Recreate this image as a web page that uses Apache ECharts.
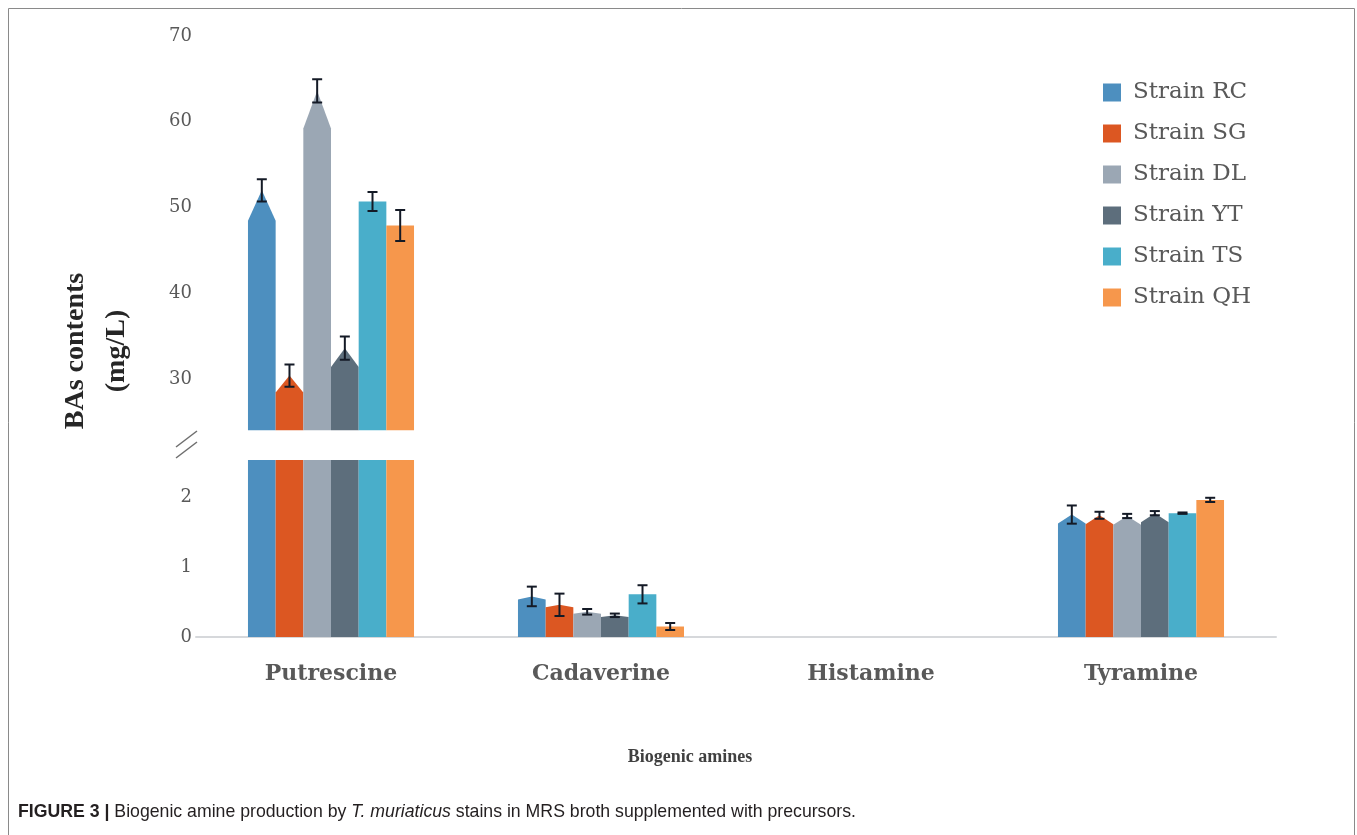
<!DOCTYPE html>
<html>
<head>
<meta charset="utf-8">
<title>Biogenic amine production</title>
<script src="https://cdn.jsdelivr.net/npm/echarts@6/dist/echarts.min.js"></script>
<style>
  html, body { margin: 0; padding: 0; background: #ffffff; }
  #chart { width: 1357px; height: 835px; }
</style>
</head>
<body>
<div id="chart"></div>
<script>
// ---- data ----
const categories = ['Putrescine', 'Cadaverine', 'Histamine', 'Tyramine'];
const strains = ['Strain RC', 'Strain SG', 'Strain DL', 'Strain YT', 'Strain TS', 'Strain QH'];

// mean BA content (mg/L), one value per amine
const strainRC = [52.0, 0.58, 0, 1.75];
const strainSG = [30.4, 0.46, 0, 1.74];
const strainDL = [63.6, 0.36, 0, 1.73];
const strainYT = [33.6, 0.31, 0, 1.77];
const strainTS = [50.7, 0.61, 0, 1.77];
const strainQH = [47.9, 0.15, 0, 1.96];

// standard deviation of each mean
const errRC = [1.3, 0.14, 0, 0.13];
const errSG = [1.3, 0.16, 0, 0.05];
const errDL = [1.35, 0.04, 0, 0.03];
const errYT = [1.35, 0.025, 0, 0.03];
const errTS = [1.1, 0.13, 0, 0.01];
const errQH = [1.8, 0.05, 0, 0.03];

// broken value axis: upper and lower segments
const upperTicks = [30, 40, 50, 60, 70];
const lowerTicks = [0, 1, 2];
const upperRange = [24, 70];
const lowerRange = [0, 2.53];

// ---- styling / layout ----
const means = [strainRC, strainSG, strainDL, strainYT, strainTS, strainQH];
const errs = [errRC, errSG, errDL, errYT, errTS, errQH];
const colors = ['#4d8fbf', '#dc5722', '#9ba7b4', '#5d6e7c', '#49aeca', '#f6974c'];
const pointedTop = [true, true, true, true, false, false];
const TIP_FRAC = 0.073;     // height of the pointed cap relative to the bar's drawn height
const BAR_FRAC = 0.1025;    // bar width relative to the category band
const ERR_COLOR = '#141a26';
const CAP_W = 10;

const GRID_LEFT = 196, GRID_W = 1080;
const UP_TOP = 36, UP_H = 394.5;
const LO_TOP = 460, LO_H = 177;

const SERIF = '"DejaVu Serif", "Liberation Serif", serif';
const SANS = '"Liberation Sans", Arial, sans-serif';
const GRAY = '#595959';

function makeRenderer(k, isUpper) {
  return function (params, api) {
    const cat = api.value(0);
    const v = api.value(1);
    const e = api.value(2);
    if (!(v > 0)) return null;
    if (isUpper && v <= upperRange[0]) return null;
    const cs = params.coordSys;
    const bottom = cs.y + cs.height;
    const p = api.coord([cat, v]);
    const band = api.size([1, 0])[0];
    const bw = band * BAR_FRAC;
    const x0 = p[0] + (k - strains.length / 2) * bw;
    const yTop = p[1];
    let total = bottom - yTop;
    if (isUpper) total += LO_H;
    const tip = pointedTop[k] ? total * TIP_FRAC : 0;
    const children = [{
      type: 'polygon',
      shape: {
        points: [[x0, bottom], [x0, yTop + tip], [x0 + bw / 2, yTop],
                 [x0 + bw, yTop + tip], [x0 + bw, bottom]]
      },
      style: { fill: colors[k] }
    }];
    const inSegment = isUpper ? true : v <= lowerRange[1];
    if (e > 0 && inSegment) {
      const hi = api.coord([cat, v + e])[1];
      const lo = api.coord([cat, v - e])[1];
      const cx = x0 + bw / 2;
      const ls = { stroke: ERR_COLOR, lineWidth: 2 };
      children.push({ type: 'line', shape: { x1: cx, y1: hi, x2: cx, y2: lo }, style: ls });
      children.push({ type: 'line', shape: { x1: cx - CAP_W / 2, y1: hi, x2: cx + CAP_W / 2, y2: hi }, style: ls });
      children.push({ type: 'line', shape: { x1: cx - CAP_W / 2, y1: lo, x2: cx + CAP_W / 2, y2: lo }, style: ls });
    }
    return { type: 'group', children: children };
  };
}

const series = [];
strains.forEach(function (name, k) {
  const data = categories.map(function (c, i) { return [i, means[k][i], errs[k][i]]; });
  [true, false].forEach(function (isUpper) {
    series.push({
      type: 'custom',
      name: name,
      xAxisIndex: isUpper ? 0 : 1,
      yAxisIndex: isUpper ? 0 : 1,
      clip: true,
      itemStyle: { color: colors[k] },
      encode: { x: 0, y: 1 },
      data: data,
      renderItem: makeRenderer(k, isUpper)
    });
  });
});

const valueAxisBase = {
  type: 'value',
  axisLine: { show: false },
  axisTick: { show: false },
  splitLine: { show: false },
};

const chart = echarts.init(document.getElementById('chart'), null, { renderer: 'canvas' });
chart.setOption({
  animation: false,
  backgroundColor: '#ffffff',
  grid: [
    { left: GRID_LEFT, width: GRID_W, top: UP_TOP, height: UP_H },
    { left: GRID_LEFT, width: GRID_W, top: LO_TOP, height: LO_H }
  ],
  xAxis: [
    { type: 'category', gridIndex: 0, data: categories, show: false },
    {
      type: 'category', gridIndex: 1, data: categories,
      axisLine: { lineStyle: { color: '#d6d8db', width: 2 } },
      axisTick: { show: false },
      axisLabel: {
        margin: 26,
        fontFamily: SERIF, fontWeight: 'bold', fontSize: 22, color: GRAY
      }
    }
  ],
  yAxis: [
    Object.assign({}, valueAxisBase, {
      gridIndex: 0, min: upperRange[0], max: upperRange[1],
      axisLabel: { customValues: upperTicks, margin: 4, fontFamily: SERIF, fontSize: 18, color: GRAY }
    }),
    Object.assign({}, valueAxisBase, {
      gridIndex: 1, min: lowerRange[0], max: lowerRange[1],
      axisLabel: { customValues: lowerTicks, margin: 4, fontFamily: SERIF, fontSize: 18, color: GRAY }
    })
  ],
  legend: {
    data: strains,
    orient: 'vertical',
    left: 1103, top: 81,
    padding: 0,
    itemWidth: 18, itemHeight: 18, itemGap: 18,
    icon: 'rect',
    selectedMode: false,
    textStyle: { fontFamily: SERIF, fontSize: 23, color: GRAY, lineHeight: 23, padding: [0, 0, 0, 7] }
  },
  graphic: [
    {
      type: 'rect', silent: true, z: -10,
      shape: { x: 8.5, y: 8.5, width: 1346, height: 840 },
      style: { fill: null, stroke: '#8a8a8a', lineWidth: 1 }
    },
    {
      type: 'line', silent: true,
      shape: { x1: 176, y1: 447, x2: 197, y2: 431 },
      style: { stroke: '#6f6f6f', lineWidth: 1.5 }
    },
    {
      type: 'line', silent: true,
      shape: { x1: 176, y1: 458, x2: 197, y2: 442 },
      style: { stroke: '#6f6f6f', lineWidth: 1.5 }
    },
    {
      type: 'text', silent: true,
      x: 96, y: 351, rotation: Math.PI / 2,
      style: {
        text: 'BAs contents\n(mg/L)',
        fontFamily: '"Liberation Serif", serif', fontWeight: 'bold', fontSize: 28,
        lineHeight: 41, fill: '#262626', align: 'center', verticalAlign: 'middle'
      }
    },
    {
      type: 'text', silent: true,
      x: 690, y: 757,
      style: {
        text: 'Biogenic amines',
        fontFamily: '"Liberation Serif", serif', fontWeight: 'bold', fontSize: 18,
        fill: '#404040', align: 'center', verticalAlign: 'middle'
      }
    },
    {
      type: 'text', silent: true,
      x: 18, y: 812,
      style: {
        text: '{b|FIGURE 3 |} {n|Biogenic amine production by }{i|T. muriaticus}{n| stains in MRS broth supplemented with precursors.}',
        verticalAlign: 'middle', align: 'left',
        fontFamily: SANS, fontSize: 17.7, fill: '#231f20',
        rich: {
          b: { fontFamily: SANS, fontWeight: 'bold', fontSize: 17.7, fill: '#231f20' },
          n: { fontFamily: SANS, fontSize: 17.7, fill: '#231f20' },
          i: { fontFamily: SANS, fontStyle: 'italic', fontSize: 17.7, fill: '#231f20' }
        }
      }
    }
  ],
  series: series
});
</script>
</body>
</html>
